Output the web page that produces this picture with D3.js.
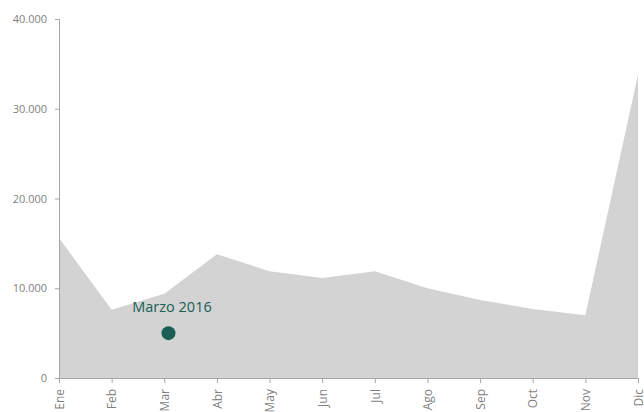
<!DOCTYPE html>
<html>
<head>
<meta charset="utf-8">
<script src="https://cdn.jsdelivr.net/npm/d3@7"></script>
<style>
  body { margin: 0; background: #fff; }
  svg { display: block; font-family: "Open Sans", sans-serif; }
</style>
</head>
<body>
<div id="chart"></div>
<script>
// Dades mensuals
const months = ["Ene", "Feb", "Mar", "Abr", "May", "Jun", "Jul", "Ago", "Sep", "Oct", "Nov", "Dic"];
const values = [15600, 7600, 9400, 13800, 11900, 11150, 11900, 10000, 8700, 7700, 7000, 33800];
const yTicks = [0, 10000, 20000, 30000, 40000];
// Punt destacat
const markerLabel = "Marzo 2016";
const markerPos = [2.08, 5000]; // índex del mes, valor

const width = 644, height = 412;
const svg = d3.select("#chart").append("svg").attr("width", width).attr("height", height);

const x = d3.scaleLinear().domain([0, months.length - 1]).range([59, 638]);
const y = d3.scaleLinear().domain([0, 40000]).range([378, 19]);
const fmt = v => d3.format(",")(v).replace(/,/g, ".");

// Àrea
const area = d3.area().x((d, i) => x(i)).y0(y(0)).y1(d => y(d));
svg.append("path").datum(values).attr("d", area).attr("fill", "#d3d3d3");

// Eix Y
const yAxis = svg.append("g").attr("transform", `translate(59,0)`)
    .call(d3.axisLeft(y).tickValues(yTicks).tickFormat(fmt).tickSize(4).tickPadding(8));
yAxis.select(".domain").attr("stroke", "#a6a6a6");
yAxis.selectAll(".tick line").attr("stroke", "#a6a6a6");
yAxis.selectAll(".tick text").attr("fill", "#7f7f7f").style("font-size", "11px").style("font-family", "Open Sans");

// Eix X
const xAxis = svg.append("g").attr("transform", `translate(0,378)`)
    .call(d3.axisBottom(x).tickValues(d3.range(months.length)).tickFormat(i => months[i]).tickSize(5).tickSizeOuter(0));
xAxis.select(".domain").attr("stroke", "#a6a6a6");
xAxis.selectAll(".tick line").attr("stroke", "#a6a6a6");
xAxis.selectAll(".tick text")
    .attr("fill", "#7f7f7f").style("font-size", "12px").style("font-family", "Open Sans")
    .attr("transform", "rotate(-90)")
    .attr("text-anchor", "end")
    .attr("x", -11).attr("y", 0).attr("dy", "0.35em");

// Marcador
svg.append("circle")
    .attr("cx", x(markerPos[0])).attr("cy", y(markerPos[1])).attr("r", 7)
    .attr("fill", "#1a5e55");
svg.append("text")
    .attr("x", x(markerPos[0]) + 3.5).attr("y", y(markerPos[1]) - 21)
    .attr("text-anchor", "middle")
    .attr("fill", "#1a5e55").style("font-size", "14.5px")
    .text(markerLabel);
</script>
</body>
</html>
